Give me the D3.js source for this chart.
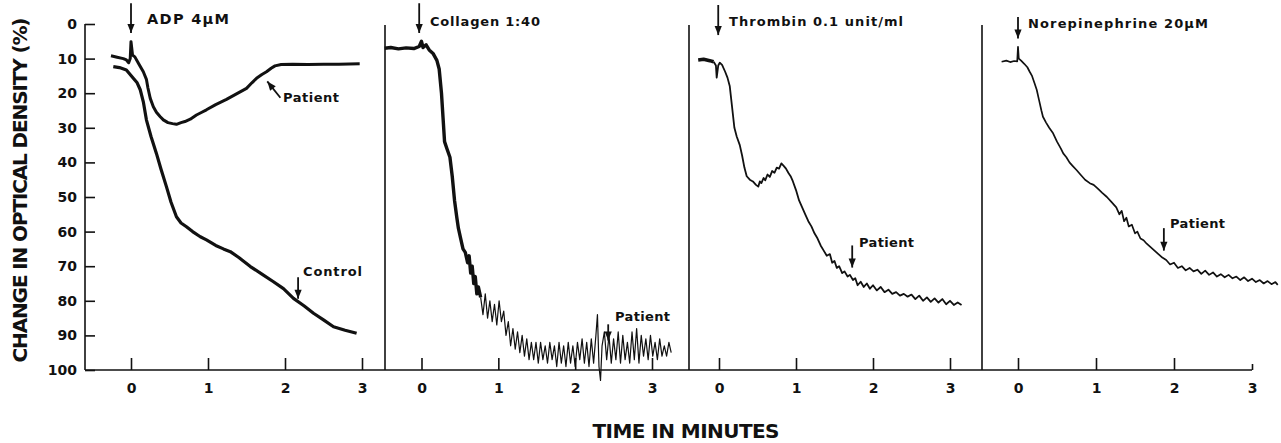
<!DOCTYPE html>
<html>
<head>
<meta charset="utf-8">
<script src="https://cdn.jsdelivr.net/npm/d3@7"></script>
<style>
  html, body { margin: 0; padding: 0; background: #fff; }
  svg { display: block; }
  text { font-family: "DejaVu Sans", "Open Sans", sans-serif; font-weight: 700; fill: #111; }
</style>
</head>
<body>
<div id="chart"></div>
<script>
// Tracing values, [minutes, % change in optical density]
const adpPatient = [[-0.26,9.2],[-0.18,9.6],[-0.1,10],[-0.06,10.4],[-0.03,11.2],[-0.01,10],[0,5.1],[0.02,9],[0.05,9.5],[0.1,11.5],[0.16,13.8],[0.2,16],[0.22,18.5],[0.25,21.5],[0.29,23.9],[0.33,25.5],[0.38,26.8],[0.42,27.7],[0.48,28.5],[0.54,28.8],[0.59,29],[0.65,28.5],[0.7,28.2],[0.77,27.5],[0.85,26.3],[0.92,25.5],[0.98,24.8],[1.1,23.3],[1.24,21.8],[1.37,20.2],[1.5,18.6],[1.57,17],[1.63,15.7],[1.7,14.6],[1.76,13.8],[1.82,12.8],[1.87,12.1],[1.95,11.7],[2.1,11.6],[2.3,11.7],[2.5,11.6],[2.7,11.6],[2.97,11.5]]
const adpControl = [[-0.23,12.3],[-0.15,12.6],[-0.06,13.3],[0.03,15.7],[0.08,17],[0.12,19],[0.16,22.5],[0.2,27.7],[0.26,32.5],[0.33,37.4],[0.39,42],[0.46,47],[0.52,51.5],[0.59,55.7],[0.65,57.5],[0.72,58.6],[0.8,60],[0.9,61.5],[0.98,62.4],[1.1,64],[1.2,65],[1.29,65.8],[1.4,67.5],[1.55,70.1],[1.7,72.3],[1.85,74.5],[1.98,76.5],[2.11,79.3],[2.25,81.5],[2.37,83.6],[2.5,85.5],[2.63,87.5],[2.78,88.5],[2.93,89.4]]
const collagenDrop = [[-0.48,7],[-0.4,6.8],[-0.3,7.2],[-0.2,6.9],[-0.1,7.1],[-0.03,6.5],[0,5],[0.02,6.8],[0.06,6],[0.1,7.5],[0.15,8.5],[0.2,10.5],[0.23,13],[0.26,20],[0.28,27],[0.3,34],[0.33,36],[0.37,38.5],[0.4,44],[0.43,51],[0.46,56],[0.48,59],[0.51,62],[0.54,65],[0.57,66],[0.6,69],[0.62,67],[0.64,72],[0.66,70],[0.68,75],[0.7,73],[0.72,78],[0.74,76],[0.77,79]]
const collagenOsc = [[0.77,79],[0.8,84],[0.83,78],[0.86,85],[0.89,80],[0.92,86],[0.95,81],[0.98,87],[1.01,80],[1.04,86],[1.07,83],[1.1,90],[1.13,86],[1.16,93],[1.19,88],[1.22,94],[1.25,89],[1.28,95],[1.31,90],[1.34,96],[1.37,91],[1.4,97],[1.43,92],[1.46,97],[1.49,92],[1.52,98],[1.55,92],[1.58,97],[1.61,93],[1.64,98],[1.67,92],[1.7,97],[1.73,93],[1.76,99],[1.79,92],[1.82,98],[1.85,93],[1.88,99],[1.91,92],[1.94,98],[1.97,93],[2,99],[2.03,92],[2.06,97],[2.09,91],[2.12,98],[2.15,92],[2.18,99],[2.21,91],[2.24,98],[2.27,90],[2.29,84],[2.31,99],[2.33,103],[2.35,93],[2.38,89],[2.41,97],[2.44,90],[2.47,98],[2.5,91],[2.53,97],[2.56,89],[2.59,98],[2.62,90],[2.65,97],[2.68,92],[2.71,98],[2.74,89],[2.77,97],[2.8,88],[2.83,98],[2.86,90],[2.89,96],[2.92,91],[2.95,97],[2.98,90],[3.01,96],[3.04,92],[3.07,97],[3.1,91],[3.13,96],[3.16,93],[3.19,96],[3.22,92],[3.25,95]]
const thrombinBase = [[-0.27,10.4],[-0.2,10.2],[-0.12,10.6],[-0.07,10.9]]
const thrombin = [[-0.07,10.9],[-0.04,12],[-0.03,15.5],[-0.01,12],[0.01,11.2],[0.04,11.8],[0.08,13.8],[0.11,15.5],[0.14,18],[0.17,24],[0.2,30],[0.23,32.5],[0.27,35],[0.3,38],[0.33,41.5],[0.36,44],[0.4,45],[0.44,45.5],[0.48,46.5],[0.51,47],[0.53,45.5],[0.55,46],[0.58,44.5],[0.6,45.2],[0.63,43.5],[0.66,44.2],[0.69,42.5],[0.72,43],[0.75,41.5],[0.78,41.8],[0.81,40.3],[0.84,41],[0.87,41.8],[0.9,43],[0.93,44],[0.96,45.5],[1,48],[1.04,51],[1.08,53],[1.12,55],[1.16,57],[1.2,58.5],[1.24,60.5],[1.28,62],[1.32,64],[1.36,65.5],[1.4,67],[1.44,66.5],[1.47,69],[1.5,68.5],[1.53,70.5],[1.56,70],[1.6,72],[1.63,71.5],[1.67,73],[1.7,72.5],[1.74,74],[1.77,73.5],[1.8,75.5],[1.84,74.5],[1.88,76],[1.92,75],[1.96,76.5],[2,75.5],[2.05,77],[2.1,76],[2.15,77.5],[2.2,76.8],[2.25,78],[2.3,77.5],[2.35,78.5],[2.4,78],[2.45,78.8],[2.5,78.2],[2.55,79.5],[2.6,78.5],[2.65,80],[2.7,79],[2.75,80.3],[2.8,79.3],[2.85,80.5],[2.9,79.5],[2.95,81],[3,80],[3.05,81.2],[3.1,80.5],[3.15,81.2]]
const norepinephrine = [[-0.21,10.9],[-0.15,10.6],[-0.1,11],[-0.05,10.7],[-0.01,10.8],[0,6.6],[0.01,10],[0.04,10.6],[0.08,11.5],[0.12,12.5],[0.15,13.8],[0.18,15],[0.21,17],[0.24,19],[0.27,22],[0.3,25],[0.32,26.8],[0.36,28.5],[0.4,30],[0.45,31.6],[0.5,34],[0.55,36],[0.58,37.4],[0.62,38.5],[0.66,40],[0.7,41],[0.75,42.2],[0.8,43.5],[0.86,45],[0.92,46],[0.97,46.5],[1.02,47.5],[1.08,48.8],[1.14,50],[1.2,51.5],[1.26,53],[1.3,55],[1.33,54],[1.36,57],[1.39,56],[1.42,58.5],[1.46,58],[1.5,60.5],[1.53,60],[1.57,62],[1.61,62.5],[1.65,63.5],[1.7,64.5],[1.75,65.5],[1.8,66.5],[1.85,67.5],[1.9,68.2],[1.95,69.5],[2,69],[2.05,70.5],[2.1,70],[2.15,71.2],[2.2,70.5],[2.25,71.5],[2.3,71],[2.35,72.2],[2.4,71.3],[2.45,72.5],[2.5,71.8],[2.55,73],[2.6,72.3],[2.65,73.2],[2.7,72.5],[2.75,73.5],[2.8,73],[2.85,74],[2.9,73.2],[2.95,74.3],[3,73.6],[3.05,74.6],[3.1,74],[3.15,75],[3.2,74.3],[3.25,75.2],[3.3,74.6],[3.33,75.4]]

const yTicks = [0, 10, 20, 30, 40, 50, 60, 70, 80, 90, 100]
const xTicks = [0, 1, 2, 3]
const agonists = ['ADP 4\u03BCM', 'Collagen 1:40', 'Thrombin 0.1 unit/ml', 'Norepinephrine 20\u03BCM']

const width = 1281
const height = 443

const svg = d3.select('#chart').append('svg')
  .attr('width', width).attr('height', height)

const y = d3.scaleLinear().domain([0, 100]).range([24, 370])

// one time axis per panel; left = x of the vertical divider line
const panels = [
  { range: [131, 362], left: 85, traces: [[adpPatient, 3], [adpControl, 3.2]], agonist: [0, -6, 2.6, 147, 24, 82, 14.5],
    notes: [{ text: 'Patient', x: 283, y: 102, w: 56, arrow: [1.94, 21.3, 1.77, 16.6] },
            { text: 'Control', x: 303, y: 276, w: 59, arrow: [2.17, 73.2, 2.17, 79.4] }] },
  { range: [421.5, 652], left: 385, traces: [[collagenDrop, 3.4], [collagenOsc, 1.2]], agonist: [-0.03, -6, 2.6, 430, 26, 110, 13],
    notes: [{ text: 'Patient', x: 615, y: 321, w: 55, arrow: [2.43, 86.8, 2.43, 91.5] }] },
  { range: [719, 950], left: 689, traces: [[thrombinBase, 3.5], [thrombin, 1.8]], agonist: [-0.01, -5.5, 3.2, 729, 26, 174, 13],
    notes: [{ text: 'Patient', x: 859, y: 247, w: 55, arrow: [1.73, 64, 1.73, 70.4] }] },
  { range: [1018, 1252], left: 982, traces: [[norepinephrine, 1.7]], agonist: [0, -2, 4.2, 1028, 28, 180, 13],
    notes: [{ text: 'Patient', x: 1170, y: 228, w: 55, arrow: [1.87, 59, 1.87, 65.5] }] }
]

function arrow(g, x1, y1, x2, y2, sw) {
  g.append('line').attr('x1', x1).attr('y1', y1).attr('x2', x2).attr('y2', y2)
    .attr('stroke', '#111').attr('stroke-width', sw || 1.6)
  const a = Math.atan2(y2 - y1, x2 - x1)
  const L = 9, W = 3.6
  const bx = x2 - L * Math.cos(a), by = y2 - L * Math.sin(a)
  const px = -Math.sin(a) * W, py = Math.cos(a) * W
  g.append('path')
    .attr('d', `M${x2},${y2}L${bx + px},${by + py}L${bx - px},${by - py}Z`)
    .attr('fill', '#111')
}

panels.forEach((p, i) => {
  const x = d3.scaleLinear().domain([0, 3]).range(p.range)
  const g = svg.append('g')

  // vertical divider / y axis line
  g.append('line').attr('x1', p.left).attr('x2', p.left)
    .attr('y1', y(0) + (i ? 1 : 0)).attr('y2', y(100))
    .attr('stroke', '#111').attr('stroke-width', 1.6)

  // time axis
  const ax = g.append('g').attr('transform', `translate(0,${y(100)})`)
    .call(d3.axisBottom(x).tickValues(xTicks).tickSize(-12).tickPadding(13).tickFormat(d3.format('d')))
  ax.select('.domain').remove()
  ax.selectAll('line').attr('stroke', '#111').attr('stroke-width', 1.6)
  ax.selectAll('text').attr('fill', '#111').style('font-size', '14px').style('font-family', '"DejaVu Sans", sans-serif').style('font-weight', 700)
  if (i === 3) ax.selectAll('.tick').filter(d => d === 3).select('line').attr('y2', -6)

  // baseline to next panel
  const right = i < 3 ? panels[i + 1].left : x(3)
  g.append('line').attr('x1', p.left).attr('x2', right).attr('y1', y(100)).attr('y2', y(100))
    .attr('stroke', '#111').attr('stroke-width', 1.6)

  // traces
  const line = d3.line().x(d => x(d[0])).y(d => y(d[1]))
  p.traces.forEach(([data, sw]) => {
    g.append('path').datum(data).attr('d', line)
      .attr('fill', 'none').attr('stroke', '#111').attr('stroke-width', sw)
      .attr('stroke-linejoin', 'round')
  })

  // agonist arrow + label
  const [at, v1, v2, lx, ly, lw, fs] = p.agonist
  arrow(g, x(at), y(v1), x(at), y(v2), 1.8)
  g.append('text').attr('x', lx).attr('y', ly).text(agonists[i])
    .attr('textLength', lw).style('font-size', fs + 'px')

  // patient / control notes
  p.notes.forEach(n => {
    const [t1, a1, t2, a2] = n.arrow
    arrow(g, x(t1), y(a1), x(t2), y(a2), 1.8)
    g.append('text').attr('x', n.x).attr('y', n.y).text(n.text)
      .attr('textLength', n.w).style('font-size', '13px')
  })
})

// y axis ticks and labels
const yAx = svg.append('g').attr('transform', `translate(${panels[0].left},0)`)
  .call(d3.axisLeft(y).tickValues(yTicks).tickSize(-10).tickPadding(8))
yAx.select('.domain').remove()
yAx.selectAll('line').attr('stroke', '#111').attr('stroke-width', 1.6)
yAx.selectAll('text').attr('fill', '#111').style('font-size', '14px').style('font-family', '"DejaVu Sans", sans-serif').style('font-weight', 700)

// axis titles
svg.append('text').attr('transform', 'translate(27,190) rotate(-90)')
  .attr('text-anchor', 'middle').attr('textLength', 345)
  .style('font-size', '20px').text('CHANGE IN OPTICAL DENSITY (%)')
svg.append('text').attr('x', 686).attr('y', 438)
  .attr('text-anchor', 'middle').attr('textLength', 187)
  .style('font-size', '20px').text('TIME IN MINUTES')
</script>
</body>
</html>
